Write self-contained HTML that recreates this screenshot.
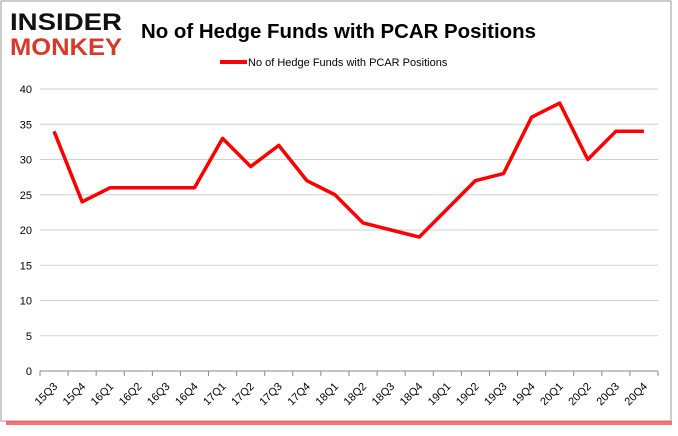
<!DOCTYPE html>
<html><head><meta charset="utf-8"><style>
body{margin:0;width:678px;height:431px;background:#fff;overflow:hidden;font-family:"Liberation Sans",sans-serif}
</style></head><body>
<svg width="678" height="431" xmlns="http://www.w3.org/2000/svg">
<rect x="1" y="1" width="670" height="420" fill="#fff" stroke="#999"/>
<rect x="6" y="421" width="666" height="4" fill="#f33" opacity="0.7"/>
<g font-family="'Liberation Sans',sans-serif" font-weight="bold" font-size="24">
<text x="10" y="30" fill="#111" textLength="112" lengthAdjust="spacingAndGlyphs">INSIDER</text>
<text x="10" y="55" fill="#d8392b" textLength="112" lengthAdjust="spacingAndGlyphs">MONKEY</text>
</g>
<text x="141" y="38" font-size="20" font-weight="bold" fill="#000" textLength="395" lengthAdjust="spacingAndGlyphs">No of Hedge Funds with PCAR Positions</text>
<g>
<line x1="220" y1="62" x2="247" y2="62" stroke="#f00" stroke-width="4"/>
<text x="248" y="66" font-size="11" fill="#000">No of Hedge Funds with PCAR Positions</text>
</g>
<g id="grid"></g><g id="axes"></g><g id="series"></g>
</svg>
<script>
const categories=["15Q3","15Q4","16Q1","16Q2","16Q3","16Q4","17Q1","17Q2","17Q3","17Q4","18Q1","18Q2","18Q3","18Q4","19Q1","19Q2","19Q3","19Q4","20Q1","20Q2","20Q3","20Q4"];
const values=[34,24,26,26,26,26,33,29,32,27,25,21,20,19,23,27,28,36,38,30,34,34];
const yTicks=[0,5,10,15,20,25,30,35,40];
const NS="http://www.w3.org/2000/svg";
const X0=40,X1=658,Y0=371,Y1=89,YMAX=40;
const bw=(X1-X0)/categories.length;
const xs=i=>X0+bw*(i+0.5);
const ys=v=>Y0-(Y0-Y1)*v/YMAX;
function mk(t,a,p){const e=document.createElementNS(NS,t);for(const k in a)e.setAttribute(k,a[k]);p.appendChild(e);return e;}
const grid=document.getElementById('grid'),axes=document.getElementById('axes'),series=document.getElementById('series');
yTicks.forEach(v=>{
 if(v>0){const l=mk('line',{x1:X0,x2:X1,y1:ys(v),y2:ys(v),stroke:'#d0d0d0'},grid);
 
 }
 const t=mk('text',{x:X0-8,y:ys(v)+4,'text-anchor':'end','font-size':11,fill:'#000'},axes);t.textContent=v;
 
 
});
const ax=mk('line',{x1:X0,x2:X1,y1:Y0,y2:Y0,stroke:'#888'},axes);


for(let i=0;i<=categories.length;i++){mk('line',{x1:X0+bw*i,x2:X0+bw*i,y1:Y0,y2:Y0+5,stroke:'#888'},axes);}
categories.forEach((c,i)=>{
 const x=xs(i)+4,y=Y0+16;
 const t=mk('text',{x:x,y:y,'text-anchor':'end','font-size':11,fill:'#000',transform:`rotate(-45 ${x} ${y})`},axes);t.textContent=c;
 
 
});
const p=mk('polyline',{points:values.map((v,i)=>xs(i)+','+ys(v)).join(' '),fill:'none',stroke:'#f00','stroke-width':3.5,'stroke-linejoin':'round'},series);


</script>
</body></html>
